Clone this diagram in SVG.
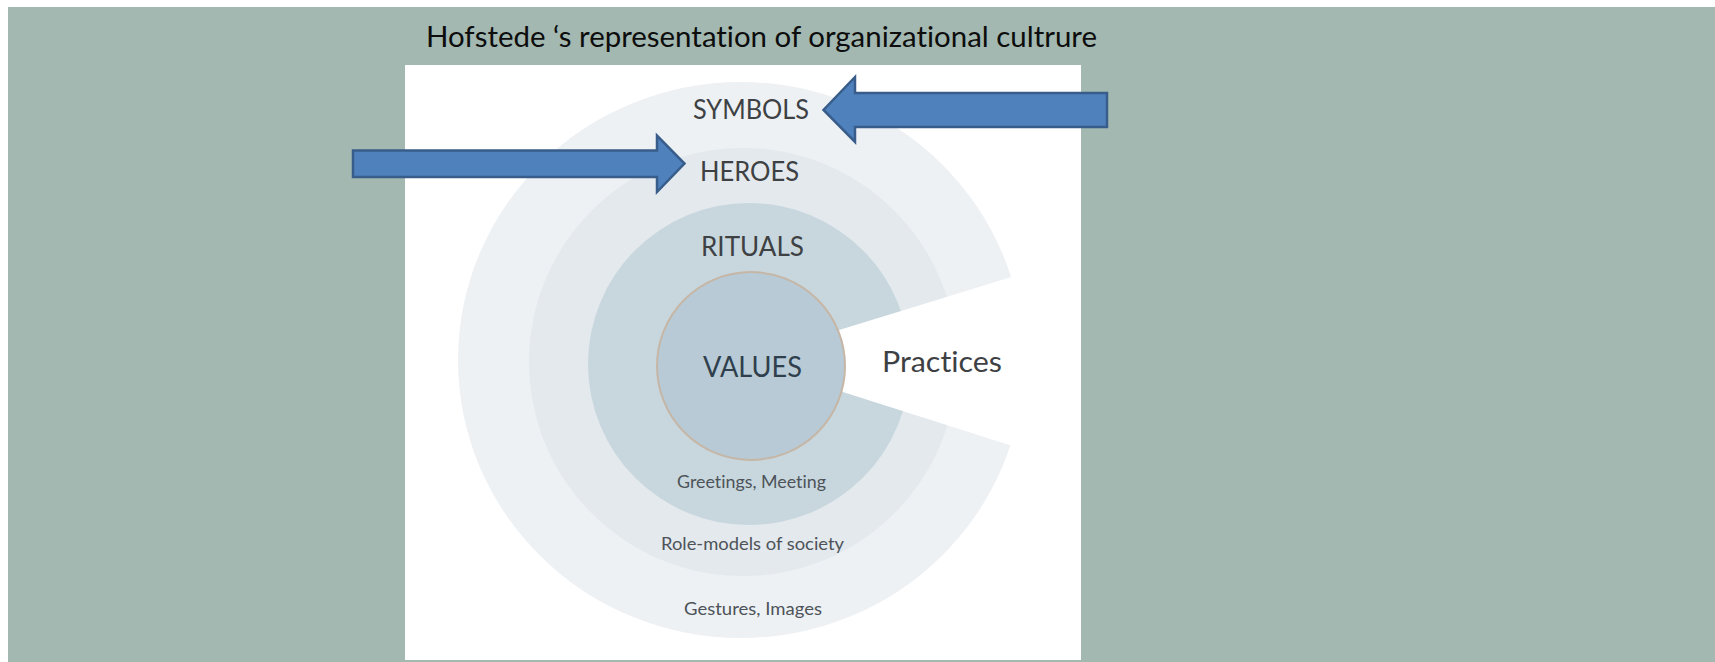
<svg xmlns="http://www.w3.org/2000/svg" width="1715" height="662" viewBox="0 0 1715 662">
  <style>
    text { font-variant-ligatures: none; }
    .title { font-family: "Lato", "Liberation Sans", sans-serif; font-size: 29px; fill: #0d0d0d; }
    .lbl { font-family: "Lato", "Liberation Sans", sans-serif; font-size: 26px; fill: #3e4143; }
    .big { font-family: "Lato", "Liberation Sans", sans-serif; font-size: 29px; }
    .small { font-family: "Lato", "Liberation Sans", sans-serif; font-size: 18px; fill: #4d5359; }
    .arrow { fill: #4f81bd; stroke: #385d8a; stroke-width: 2.5; stroke-linejoin: miter; }
  </style>
  <rect x="0" y="0" width="1715" height="662" fill="#ffffff"/>
  <rect id="panel" x="8" y="7" width="1707" height="655" fill="#a2b8b0"/>
  <g id="title">
    <text class="title" x="426" y="47" textLength="671" lengthAdjust="spacingAndGlyphs">Hofstede ‘s representation of organizational cultrure</text>
  </g>
  <rect id="picture" x="405" y="65" width="676" height="595" fill="#ffffff"/>
  <g id="symbols">
    <ellipse cx="741" cy="360" rx="283" ry="278" fill="#edf1f4"/>
  </g>
  <g id="heroes">
    <circle cx="743" cy="362" r="214" fill="#e3e9ed"/>
  </g>
  <g id="rituals">
    <circle cx="749" cy="364" r="161" fill="#c8d7de"/>
  </g>
  <g id="practices">
    <polygon points="742,360 1060,262 1060,461" fill="#ffffff"/>
    <text class="big" x="882" y="372" textLength="120" lengthAdjust="spacingAndGlyphs" fill="#3e4144">Practices</text>
  </g>
  <g id="values">
    <circle cx="751" cy="366" r="94" fill="#b7cad5" stroke="#c6b6a6" stroke-width="2"/>
    <text class="big" x="703" y="377" textLength="99" lengthAdjust="spacingAndGlyphs" fill="#2f3f4d">VALUES</text>
  </g>
  <g id="labels">
    <text class="lbl" x="693" y="119" textLength="116" lengthAdjust="spacingAndGlyphs">SYMBOLS</text>
    <text class="lbl" x="700" y="181" textLength="99" lengthAdjust="spacingAndGlyphs">HEROES</text>
    <text class="lbl" x="701" y="256" textLength="103" lengthAdjust="spacingAndGlyphs">RITUALS</text>
    <text class="small" x="677" y="488" textLength="149" lengthAdjust="spacingAndGlyphs">Greetings, Meeting</text>
    <text class="small" x="661" y="550" textLength="183" lengthAdjust="spacingAndGlyphs">Role-models of society</text>
    <text class="small" x="684" y="615" textLength="138" lengthAdjust="spacingAndGlyphs">Gestures, Images</text>
  </g>
  <g id="connectors">
    <polygon class="arrow" points="1107,93 855,93 855,77 823.5,110 855,142 855,127 1107,127"/>
    <polygon class="arrow" points="353,150.5 657,150.5 657,135.5 684.5,163.5 657,192 657,177 353,177"/>
  </g>
</svg>
